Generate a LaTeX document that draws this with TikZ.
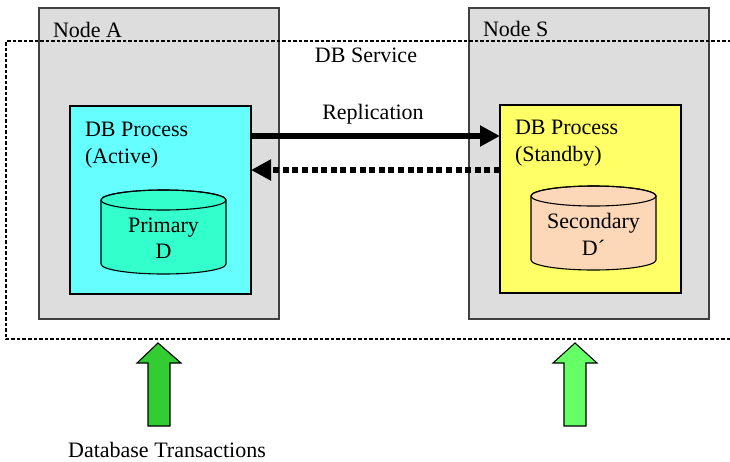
\documentclass[tikz,border=0pt]{standalone}
\usepackage{fontspec}
\setmainfont{Liberation Serif}
\usetikzlibrary{arrows.meta}
\definecolor{boxgray}{HTML}{DDDDDD}
\definecolor{boxedge}{HTML}{404040}
\definecolor{activecyan}{HTML}{66FFFF}
\definecolor{standbyyellow}{HTML}{FFFF66}
\definecolor{primfill}{HTML}{33FFCC}
\definecolor{secfill}{HTML}{FCD8B8}
\definecolor{greenA}{HTML}{33CC33}
\definecolor{greenS}{HTML}{66FF66}
\begin{document}
\begin{tikzpicture}[x=1pt,y=-1pt,
  every node/.style={font=\fontsize{22}{27}\selectfont, inner sep=0pt, outer sep=0pt},
  hostbox/.style={draw=boxedge, fill=boxgray, line width=1.5pt, minimum width=240pt, minimum height=311pt, anchor=north west},
  procbox/.style={draw=black, line width=1.1pt, minimum width=181pt, minimum height=188pt, anchor=north west},
  cyl/.style={draw=black, line width=1.1pt},
  service/.style={line width=1.3pt, dash pattern=on 3.5pt off 2pt},
  txarrow/.style={draw=black, line width=1.1pt},
  lbl/.style={anchor=base west},
  clbl/.style={anchor=base}
]
\useasboundingbox (0,0) rectangle (730,461);
% host nodes
\node[hostbox] (hostA) at (39,8) {};
\node[hostbox] (hostS) at (469,8) {};
% service dashed boundary
\draw[service] (731,41) -- (6,41) -- (6,339) -- (731,339);
% processes
\node[procbox, fill=activecyan] (procA) at (70,106) {};
\node[procbox, fill=standbyyellow] (procS) at (500,105) {};
% cylinders
\filldraw[cyl, fill=primfill] (101,200) -- (101,264) arc[start angle=180, end angle=360, x radius=62.5pt, y radius=10pt] -- (226,200) arc[start angle=0, end angle=180, x radius=62.5pt, y radius=10pt] -- cycle;
\draw[cyl] (163.5,200) ellipse[x radius=62.5pt, y radius=10pt];
\filldraw[cyl, fill=secfill] (531,196) -- (531,260) arc[start angle=180, end angle=360, x radius=62.5pt, y radius=10pt] -- (656,196) arc[start angle=0, end angle=180, x radius=62.5pt, y radius=10pt] -- cycle;
\draw[cyl] (593.5,196) ellipse[x radius=62.5pt, y radius=10pt];
% replication arrows
\coordinate (repA) at (procA.east |- 0,136);
\coordinate (repS) at (procS.west |- 0,136);
\coordinate (backS) at (procS.west |- 0,170);
\coordinate (backA) at (procA.east |- 0,170);
\draw[line width=6pt, -{Triangle[length=20pt,width=20pt]}] (repA) -- (repS);
\draw[line width=6pt, dash pattern=on 6pt off 3.6pt, -{Triangle[length=20pt,width=20pt]}] (backS) -- (backA);
% transaction arrows
\filldraw[txarrow, fill=greenA] (158,343) -- (181,363) -- (170,363) -- (170,426) -- (148,426) -- (148,363) -- (137,363) -- cycle;
\filldraw[txarrow, fill=greenS] (575,343) -- (597,363) -- (586,363) -- (586,426) -- (564,426) -- (564,363) -- (553,363) -- cycle;
% labels
\node[lbl] (tA) at (53,37) {Node A};
\node[lbl] (tS) at (483,36) {Node S};
\node[clbl] (tSvc) at (366,62) {DB Service};
\node[clbl] (tRep) at (373,119) {Replication};
\node[lbl] (tPA1) at (85,136) {DB Process};
\node[lbl] (tPA2) at (85,163) {(Active)};
\node[lbl] (tPS1) at (515,134) {DB Process};
\node[lbl] (tPS2) at (515,161) {(Standby)};
\node[clbl] (tPr1) at (163.5,232) {Primary};
\node[clbl] (tPr2) at (163.5,258) {D};
\node[clbl] (tSe1) at (593.5,228) {Secondary};
\node[clbl] (tSe2) at (593.5,255) {D´};
\node[clbl] (tTx) at (167,457) {Database Transactions};
\end{tikzpicture}
\end{document}
